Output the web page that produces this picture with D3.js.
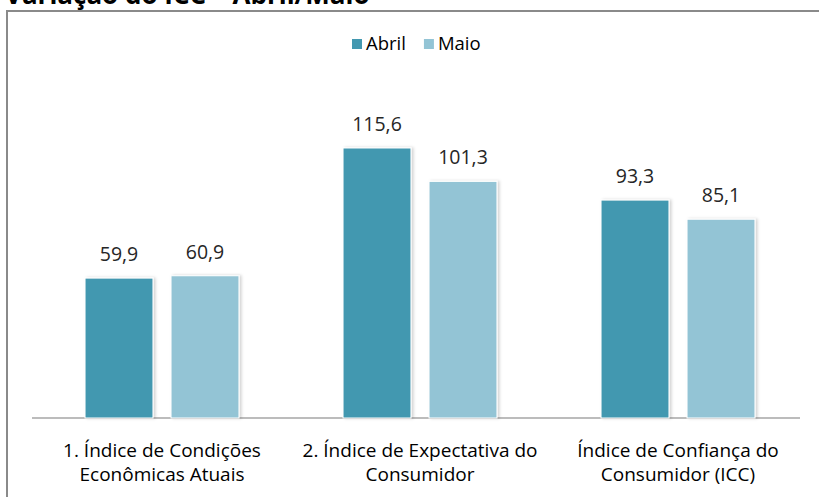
<!DOCTYPE html>
<html>
<head>
<meta charset="utf-8">
<script src="https://cdn.jsdelivr.net/npm/d3@7"></script>
<style>
  body { margin: 0; background: #fff; }
  svg { display: block; font-family: "Open Sans", sans-serif; }
</style>
</head>
<body>
<div class="graph"></div>
<script>
const categories = [
  ["1. Índice de Condições", "Econômicas Atuais"],
  ["2. Índice de Expectativa do", "Consumidor"],
  ["Índice de Confiança do", "Consumidor (ICC)"]
];
const seriesNames = ["Abril", "Maio"];
const abril = [59.9, 115.6, 93.3];
const maio = [60.9, 101.3, 85.1];
const colors = ["#4398b0", "#93c4d5"];

let width = 819;
let height = 497;

let svg = d3.select(".graph")
  .append("svg")
  .attr("width", width)
  .attr("height", height);

// soft shadow round the bars
let defs = svg.append("defs");
let filter = defs.append("filter").attr("id", "shadow")
  .attr("x", "-10%").attr("y", "-10%").attr("width", "130%").attr("height", "120%");
filter.append("feDropShadow")
  .attr("dx", 2).attr("dy", 0).attr("stdDeviation", 1.5)
  .attr("flood-color", "#000").attr("flood-opacity", 0.18);

// title, cut off by the top edge as in the source picture
svg.append("text")
  .attr("x", 5)
  .attr("y", 4)
  .attr("font-size", 26)
  .attr("font-weight", "bold")
  .attr("fill", "#000")
  .text("Variação do ICC – Abril/Maio");

// chart frame
svg.append("rect")
  .attr("x", 7)
  .attr("y", 11)
  .attr("width", 830)
  .attr("height", 520)
  .attr("fill", "none")
  .attr("stroke", "#8a8a8a")
  .attr("stroke-width", 2);

let x0 = d3.scaleBand().domain(d3.range(categories.length)).range([33, 807]);
let x1 = d3.scaleBand().domain(seriesNames).range([0, x0.bandwidth()])
  .paddingInner(0.21).paddingOuter(0.605);
let y = d3.scaleLinear().domain([0, 140]).range([418, 91]);

// baseline
svg.append("line")
  .attr("x1", 32).attr("x2", 800)
  .attr("y1", y(0)).attr("y2", y(0))
  .attr("stroke", "#a6a6a6")
  .attr("stroke-width", 1.5);

let rows = categories.map((c, i) => [
  { s: "Abril", v: abril[i], c: colors[0] },
  { s: "Maio", v: maio[i], c: colors[1] }
]);

let groups = svg.selectAll(".grp")
  .data(rows)
  .enter().append("g")
  .attr("class", "grp")
  .attr("transform", (d, i) => "translate(" + x0(i) + ",0)");

groups.selectAll("rect")
  .data(d => d)
  .enter().append("rect")
  .attr("x", d => x1(d.s))
  .attr("y", d => y(d.v))
  .attr("width", x1.bandwidth())
  .attr("height", d => y(0) - y(d.v))
  .attr("fill", d => d.c)
  .attr("stroke", "#fff")
  .attr("stroke-width", 1)
  .attr("filter", "url(#shadow)");

groups.selectAll(".val")
  .data(d => d)
  .enter().append("text")
  .attr("class", "val")
  .attr("x", d => x1(d.s) + x1.bandwidth() / 2)
  .attr("y", d => y(d.v) - 17)
  .attr("text-anchor", "middle")
  .attr("font-size", 19.5)
  .attr("fill", "#262626")
  .text(d => d3.format(".1f")(d.v).replace(".", ","));

// category labels, two lines each
categories.forEach((lines, i) => {
  let t = svg.append("text")
    .attr("text-anchor", "middle")
    .attr("font-size", 19)
    .attr("fill", "#000");
  lines.forEach((l, j) => {
    t.append("tspan")
      .attr("x", x0(i) + x0.bandwidth() / 2)
      .attr("y", 457 + j * 24)
      .text(l);
  });
});

// legend
let legend = svg.append("g").attr("transform", "translate(352,38)");
let lx = 0;
seriesNames.forEach((n, i) => {
  legend.append("rect")
    .attr("x", lx).attr("y", 1)
    .attr("width", 10).attr("height", 10)
    .attr("fill", colors[i]);
  let t = legend.append("text")
    .attr("x", lx + 14).attr("y", 12)
    .attr("font-size", 18.5)
    .attr("fill", "#000")
    .text(n);
  lx += 14 + t.node().getComputedTextLength() + 18;
});
</script>
</body>
</html>
